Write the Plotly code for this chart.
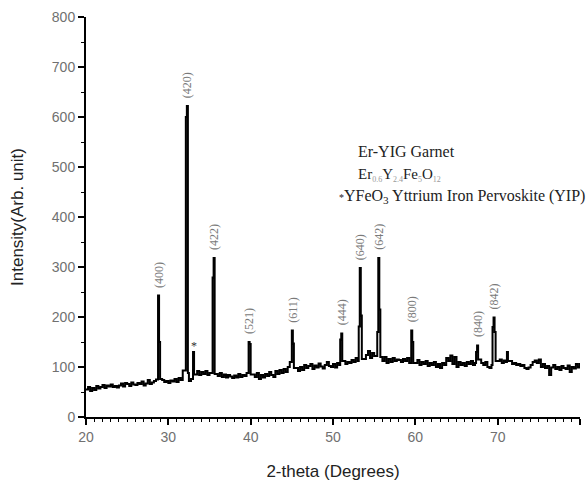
import numpy as np
import plotly.graph_objects as go

# XRD scan, coarse part: 2-theta from 20 to 80 degrees in 0.25 degree steps
two_theta_start = 20.0
two_theta_step = 0.25
intensity = [
    55, 60, 52, 58, 54, 62, 57, 60,          # 20.00 - 21.75
    64, 58, 63, 61, 65, 60, 62, 59,          # 22.00 - 23.75
    63, 67, 61, 68, 66, 62, 69, 65,          # 24.00 - 25.75
    64, 68, 66, 71, 63, 67, 74, 66,          # 26.00 - 27.75
    69, 72, 75, 75, 76, 74, 70, 72,          # 28.00 - 29.75
    68, 73, 71, 76, 70, 78, 74, 93,          # 30.00 - 31.75
    93, 90, 72, 76, 85, 85, 92, 84,          # 32.00 - 33.75
    90, 86, 92, 84, 88, 88, 86, 86,          # 34.00 - 35.75
    82, 88, 80, 85, 79, 84, 81, 78,          # 36.00 - 37.75
    83, 79, 86, 80, 84, 82, 88, 88,          # 38.00 - 39.75
    85, 85, 80, 88, 76, 84, 79, 86,          # 40.00 - 41.75
    82, 90, 84, 80, 92, 86, 94, 88,          # 42.00 - 43.75
    96, 90, 100, 110, 98, 98, 98, 92,        # 44.00 - 45.75
    100, 94, 104, 98, 102, 106, 96, 103,     # 46.00 - 47.75
    99, 107, 101, 97, 104, 110, 102, 100,    # 48.00 - 49.75
    106, 99, 108, 104, 112, 112, 106, 110,   # 50.00 - 51.75
    108, 114, 110, 118, 112, 116, 116, 116,  # 52.00 - 53.75
    124, 132, 118, 128, 122, 122, 120, 120,  # 54.00 - 55.75
    112, 120, 108, 116, 110, 118, 112, 115,  # 56.00 - 57.75
    114, 110, 116, 112, 118, 108, 108, 108,  # 58.00 - 59.75
    108, 114, 104, 110, 106, 112, 102, 108,  # 60.00 - 61.75
    104, 110, 100, 106, 98, 108, 104, 118,   # 62.00 - 63.75
    112, 123, 106, 120, 100, 110, 104, 108,  # 64.00 - 65.75
    102, 110, 106, 112, 104, 108, 115, 115,  # 66.00 - 67.75
    108, 104, 110, 100, 98, 104, 112, 112,   # 68.00 - 69.75
    112, 115, 108, 113, 110, 112, 112, 106,  # 70.00 - 71.75
    108, 104, 106, 102, 104, 98, 96, 99,     # 72.00 - 73.75
    104, 110, 113, 108, 115, 100, 106, 98,   # 74.00 - 75.75
    102, 84, 99, 104, 96, 100, 94, 102,      # 76.00 - 77.75
    98, 96, 103, 90, 100, 97, 106, 99,       # 78.00 - 79.75
    108,                                     # 80.00
]
two_theta = [two_theta_start + i * two_theta_step for i in range(len(intensity))]

# Fine steps (0.125 degree) across the reflections; these replace the coarse steps
fine_two_theta = [
    28.75, 28.875, 29.0,             # (400)
    32.125, 32.25, 32.375,           # (420)
    33.0, 33.125,                    # YFeO3 *
    35.375, 35.5, 35.625,            # (422)
    39.75, 39.875, 40.0,             # (521)
    45.0, 45.125, 45.25,             # (611)
    50.875, 51.0, 51.125,            # (444)
    53.125, 53.25, 53.375, 53.5,     # (640)
    55.375, 55.5, 55.625, 55.75,     # (642)
    59.5, 59.625, 59.75,             # (800)
    67.375, 67.5, 67.625,            # (840)
    69.375, 69.5, 69.625, 69.75,     # (842)
    71.125, 71.25,
]
fine_intensity = [
    243, 150, 76,
    600, 622, 88,
    130, 85,
    279, 318, 86,
    150, 146, 85,
    173, 147, 98,
    155, 167, 112,
    181, 298, 203, 116,
    170, 318, 215, 120,
    173, 150, 108,
    130, 143, 115,
    180, 199, 170, 112,
    130, 112,
]

# Garnet reflections (hkl) and their 2-theta positions
hkl_labels = ["(400)", "(420)", "(422)", "(521)", "(611)", "(444)",
              "(640)", "(642)", "(800)", "(840)", "(842)"]
hkl_positions = [28.8, 32.3, 35.55, 39.8, 45.05, 51.05,
                 53.3, 55.55, 59.55, 67.55, 69.55]

# Orthoferrite (YFeO3) reflection marked with a star
yip_position = 33.06

# merge coarse and fine steps into one scan
scan = dict(zip(two_theta, intensity))
scan.update(zip(fine_two_theta, fine_intensity))
x_arr = np.array(sorted(scan))
y_arr = np.array([scan[k] for k in x_arr])


def peak_height(pos):
    window = (x_arr >= pos - 0.25) & (x_arr <= pos + 0.2)
    return float(y_arr[window].max())


fig = go.Figure()
fig.add_trace(go.Scatter(
    x=x_arr, y=y_arr, mode="lines",
    line=dict(color="black", width=2, shape="hv"),
    hoverinfo="skip", showlegend=False,
))

annotations = []
for lab, pos in zip(hkl_labels, hkl_positions):
    annotations.append(dict(
        x=pos, y=peak_height(pos), xref="x", yref="y",
        text=lab, textangle=-90, showarrow=False,
        xanchor="center", yanchor="bottom", yshift=6,
        font=dict(family="Liberation Serif", size=12, color="#7a7a7a"),
    ))

annotations.append(dict(
    x=yip_position, y=peak_height(yip_position),
    xref="x", yref="y", text="*", showarrow=False,
    xanchor="center", yanchor="bottom", yshift=-3,
    font=dict(family="Liberation Serif", size=12, color="#333333"),
))

serif = "Liberation Serif"
sub_style = "font-size:8px;color:#9a9a9a"
annotations += [
    dict(x=0.547, y=0.665, xref="paper", yref="paper", showarrow=False,
         xanchor="left", yanchor="middle", text="Er-YIG Garnet",
         font=dict(family=serif, size=16, color="#222222")),
    dict(x=0.547, y=0.605, xref="paper", yref="paper", showarrow=False,
         xanchor="left", yanchor="middle",
         text=(f"Er<sub><span style='{sub_style}'>0.6</span></sub>"
               f"Y<sub><span style='{sub_style}'>2.4</span></sub>"
               f"Fe<sub><span style='{sub_style}'>5</span></sub>"
               f"O<sub><span style='{sub_style}'>12</span></sub>"),
         font=dict(family=serif, size=15, color="#222222")),
    dict(x=0.508, y=0.55, xref="paper", yref="paper", showarrow=False,
         xanchor="left", yanchor="middle",
         text="<span style='font-size:10px'>*</span>YFeO<sub>3</sub> Yttrium Iron Pervoskite (YIP)",
         font=dict(family=serif, size=16, color="#222222")),
]

tick_font = dict(family="Liberation Sans", size=14, color="#707070")

fig.update_layout(
    width=587, height=486,
    margin=dict(l=86, r=7, t=17, b=69),
    paper_bgcolor="white", plot_bgcolor="white",
    annotations=annotations,
    xaxis=dict(
        range=[20, 80], dtick=10, tick0=20,
        showline=True, linecolor="black", linewidth=2,
        ticks="outside", ticklen=6, tickwidth=1.5, tickcolor="black",
        minor=dict(dtick=1, ticks="outside", ticklen=3, tickwidth=1, tickcolor="black"),
        showgrid=False, zeroline=False, tickfont=tick_font,
        title=dict(text="2-theta (Degrees)", standoff=21,
                   font=dict(family="Liberation Sans", size=17, color="#222222")),
    ),
    yaxis=dict(
        range=[0, 800], dtick=100, tick0=0,
        showline=True, linecolor="black", linewidth=2,
        ticks="outside", ticklen=6, tickwidth=1.5, tickcolor="black",
        minor=dict(dtick=50, ticks="outside", ticklen=3, tickwidth=1, tickcolor="black"),
        showgrid=False, zeroline=False, tickfont=tick_font,
        title=dict(text="Intensity(Arb. unit)", standoff=24,
                   font=dict(family="Liberation Sans", size=17, color="#222222")),
    ),
)

fig.write_html("out.html")
